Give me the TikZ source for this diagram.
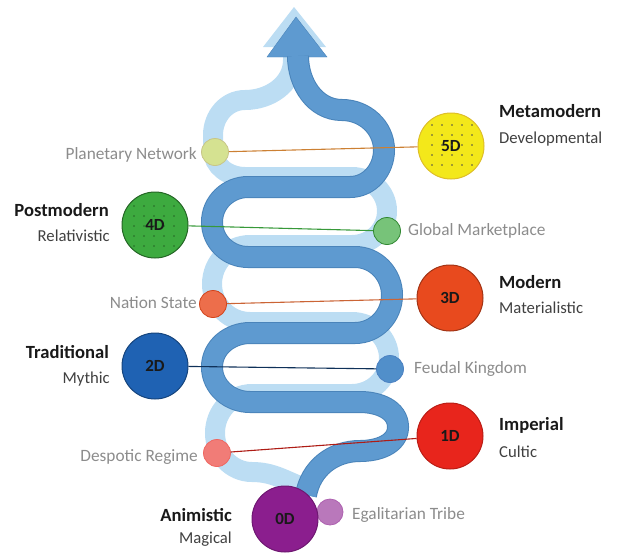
\documentclass[tikz,border=0pt]{standalone}
\usepackage{fontspec}
\setmainfont{Carlito}
\usetikzlibrary{positioning}
\definecolor{lightband}{HTML}{BCDDF3}
\definecolor{darkband}{HTML}{5E9AD0}
\definecolor{darkedge}{HTML}{4A84BA}
\definecolor{yel}{HTML}{F3E81A}
\definecolor{grn}{HTML}{3DAA3F}
\definecolor{org}{HTML}{E84A1E}
\definecolor{blu}{HTML}{1F62B3}
\definecolor{red}{HTML}{E8251C}
\definecolor{pur}{HTML}{8B1E8E}
\tikzset{
  lightribbon/.style={draw=lightband, line width=20pt},
  darkribbon/.style={draw=darkband, line width=20pt, preaction={draw=darkedge, line width=22pt}},
  bigdot/.style={circle, draw, line width=1pt, minimum size=66pt, inner sep=0pt, text=black!90, font=\bfseries\fontsize{17}{17}\selectfont},
  smalldot/.style={circle, draw, line width=0.8pt, minimum size=27pt, inner sep=0pt},
  era/.style={font=\bfseries\fontsize{18.6}{18.6}\selectfont, text=black!90, inner sep=0pt},
  mode/.style={font=\fontsize{16.7}{16.7}\selectfont, text=black!75, inner sep=0pt},
  society/.style={font=\fontsize{17.3}{17.3}\selectfont, text=black!45, inner sep=0pt},
  link/.style={line width=1.1pt},
}
\begin{document}
\begin{tikzpicture}[x=1pt,y=-1pt]
    \useasboundingbox (0,0) rectangle (617,554);
    % light ribbon
    \fill[lightband] (263,47) -- (326,47) -- (294,7) -- cycle;
    \draw[lightribbon] (293,46) -- (293,60) to[out=-90,in=0] (245,100) to[out=180,in=90] (213,135) -- (213,150) to[out=-90,in=180] (245,177) -- (352,177) to[out=0,in=90] (387,211) to[out=-90,in=0] (352,245) -- (250,245) to[out=180,in=90] (212,284) to[out=-90,in=180] (250,322) -- (352,322) to[out=0,in=90] (389,358) to[out=-90,in=0] (352,394) -- (252,394) to[out=180,in=90] (215,433) to[out=-90,in=180] (252,472) to[out=0,in=160] (305,488);
    % dark ribbon
    \fill[darkband, draw=darkedge] (267,57) -- (327,57) -- (296,17) -- cycle;
    \draw[darkribbon] (306,495) to[out=80,in=180] (360,451) to[out=0,in=-90] (398,427) to[out=90,in=0] (360,402) -- (250,402) to[out=180,in=-90] (212,367) to[out=90,in=180] (250,333) -- (355,333) to[out=0,in=-90] (392,295) to[out=90,in=0] (355,257) -- (248,257) to[out=180,in=-90] (212,222) to[out=90,in=180] (248,187) -- (350,187) to[out=0,in=-90] (384,150) to[out=90,in=0] (342,110) to[out=180,in=-90] (298,56);

    % societies
    \node[smalldot, fill=yel!45!lightband, draw=yel!60!black!50] (pn) at (215,152) {};
    \node[smalldot, fill=grn!70!white, draw=grn!80!black] (gm) at (387,231) {};
    \node[smalldot, fill=org!80!white, draw=org!90!black] (ns) at (213,304) {};
    \node[smalldot, fill=darkband!80!blu, draw=blu!80] (fk) at (390,369) {};
    \node[smalldot, fill=red!60!white, draw=red!70] (dr) at (217,453) {};
    \node[smalldot, fill=pur!60!white, draw=pur!70, minimum size=26pt] (et) at (330,512) {};

    % stages
    \node[bigdot, fill=yel, draw=yel!60!brown] (d5) at (451,146) {5D};
    \foreach \i in {-2,...,2} \foreach \j in {-2,...,2} \fill[black!70, shift={(d5)}] (\i*10+1,\j*10-1) circle (0.8);
    \node[bigdot, fill=grn, draw=grn!60!black] (d4) at (155,225) {};
    \foreach \i in {-2,...,2} \foreach \j in {-2,...,2} \fill[grn!60!black, shift={(d4)}] (\i*10-1,\j*10+1) circle (0.8);
    \node[font=\bfseries\fontsize{17}{17}\selectfont, text=black!90] (d4t) at (d4) {4D};
    \node[bigdot, fill=org, draw=org!70!black] (d3) at (450,298) {3D};
    \node[bigdot, fill=blu, draw=blu!70!black] (d2) at (155,366) {2D};
    \node[bigdot, fill=red, draw=red!80!black] (d1) at (450,436) {1D};
    \node[bigdot, fill=pur, draw=pur!80!black] (d0) at (285,519) {0D};

    % links
    \draw[link, color=brown!80!orange] (pn) -- (d5);
    \draw[link, color=grn!90!black] (gm) -- (d4);
    \draw[link, color=brown!70!red] (ns) -- (d3);
    \draw[link, color=blu!50!black] (fk) -- (d2);
    \draw[link, color=red!75!black] (dr) -- (d1);

    % labels
    \node[era, anchor=west] (meta) at (499,111) {Metamodern};
    \node[mode, anchor=west] (metasub) at (499,139) {Developmental};
    \node[era, anchor=east] (post) at (109,210) {Postmodern};
    \node[mode, anchor=east] (postsub) at (110,236) {Relativistic};
    \node[era, anchor=west] (mod) at (499,282) {Modern};
    \node[mode, anchor=west] (modsub) at (499,308) {Materialistic};
    \node[era, anchor=east] (trad) at (109,352) {Traditional};
    \node[mode, anchor=east] (tradsub) at (110,379) {Mythic};
    \node[era, anchor=west] (imp) at (499,425) {Imperial};
    \node[mode, anchor=west] (impsub) at (499,452) {Cultic};
    \node[era, anchor=east] (anim) at (232,515) {Animistic};
    \node[mode, anchor=east] (animsub) at (232,539) {Magical};

    \node[society, anchor=east] at (197,155) (pnl) {Planetary Network};
    \node[society, anchor=west] at (408,231) (gml) {Global Marketplace};
    \node[society, anchor=east] at (197,303) (nsl) {Nation State};
    \node[society, anchor=west] at (414,369) (fkl) {Feudal Kingdom};
    \node[society, anchor=east] at (198,457) (drl) {Despotic Regime};
    \node[society, anchor=west] at (352,515) (etl) {Egalitarian Tribe};
\end{tikzpicture}
\end{document}
